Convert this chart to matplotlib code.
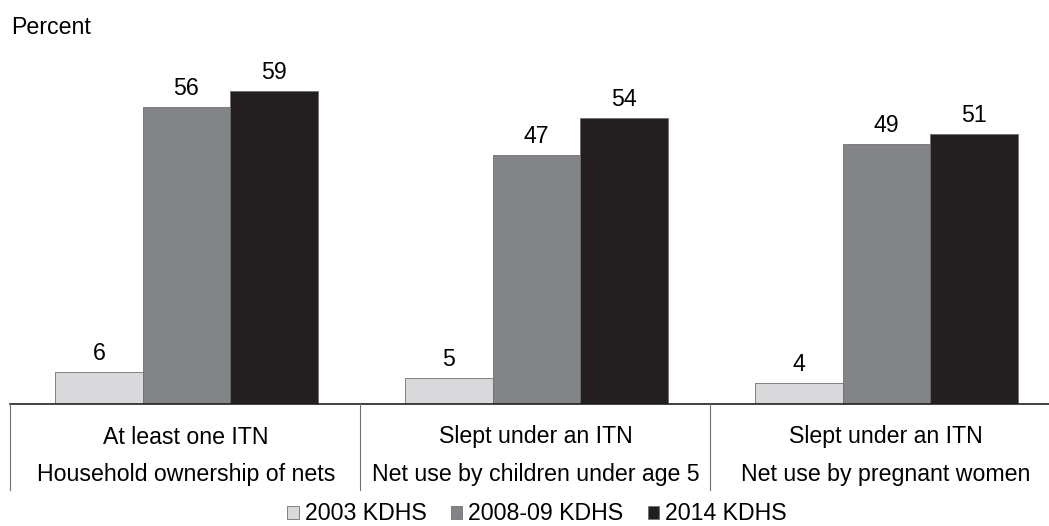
import matplotlib.pyplot as plt
import numpy as np

plt.rcParams['font.family'] = ['Liberation Sans', 'DejaVu Sans']

# ITN coverage by survey
indicators = ['At least one ITN', 'Slept under an ITN', 'Slept under an ITN']
groups = ['Household ownership of nets', 'Net use by children under age 5',
          'Net use by pregnant women']
surveys = ['2003 KDHS', '2008-09 KDHS', '2014 KDHS']
kdhs_2003 = [6, 5, 4]
kdhs_2008 = [56, 47, 49]
kdhs_2014 = [59, 54, 51]
colors = ['#d9d9db', '#838487', '#231f20']

W, H = 1049, 526
fs = 16.7
fig = plt.figure(figsize=(W / 100, H / 100), dpi=100)
ax = fig.add_axes([10 / W, (H - 404) / H, 1050 / W, 371 / H])

x = np.arange(len(groups))
bw = 0.25
series = [kdhs_2003, kdhs_2008, kdhs_2014]
for i, (vals, c, lab) in enumerate(zip(series, colors, surveys)):
    pos = x + (i - 1) * bw + 0.004
    ax.bar(pos, vals, bw, color=c, edgecolor='#707070', linewidth=0.6, label=lab)
    for px, v in zip(pos, vals):
        ax.text(px, v + 1.3, str(v), ha='center', va='bottom', fontsize=fs)

ax.set_xlim(-0.5, 2.5)
ax.set_ylim(0, 70)
ax.set_xticks([])
ax.set_yticks([])
for s in ['top', 'right', 'left']:
    ax.spines[s].set_visible(False)
ax.spines['bottom'].set_color('#231f20')
ax.spines['bottom'].set_linewidth(1.2)

# category labels and separators below the axis
for i, (ind, grp) in enumerate(zip(indicators, groups)):
    cx = (10 + 176 + 350 * i) / W
    fig.text(cx, (H - 437) / H, ind, ha='center', va='center', fontsize=fs)
    fig.text(cx, (H - 474) / H, grp, ha='center', va='center', fontsize=fs)
    sx = (10 + 350 * i) / W
    fig.add_artist(plt.Line2D([sx, sx], [(H - 404) / H, (H - 490) / H],
                              color='#707070', linewidth=0.8))

fig.text(11 / W, (H - 28) / H, 'Percent', ha='left', va='center', fontsize=fs)

fig.legend(loc='center', bbox_to_anchor=(537 / W, (H - 514) / H), ncol=3,
           frameon=False, fontsize=fs, handlelength=0.5, handleheight=0.5,
           handletextpad=0.25, columnspacing=1.05, borderpad=0.1)

fig.savefig('out.png', dpi=100)
